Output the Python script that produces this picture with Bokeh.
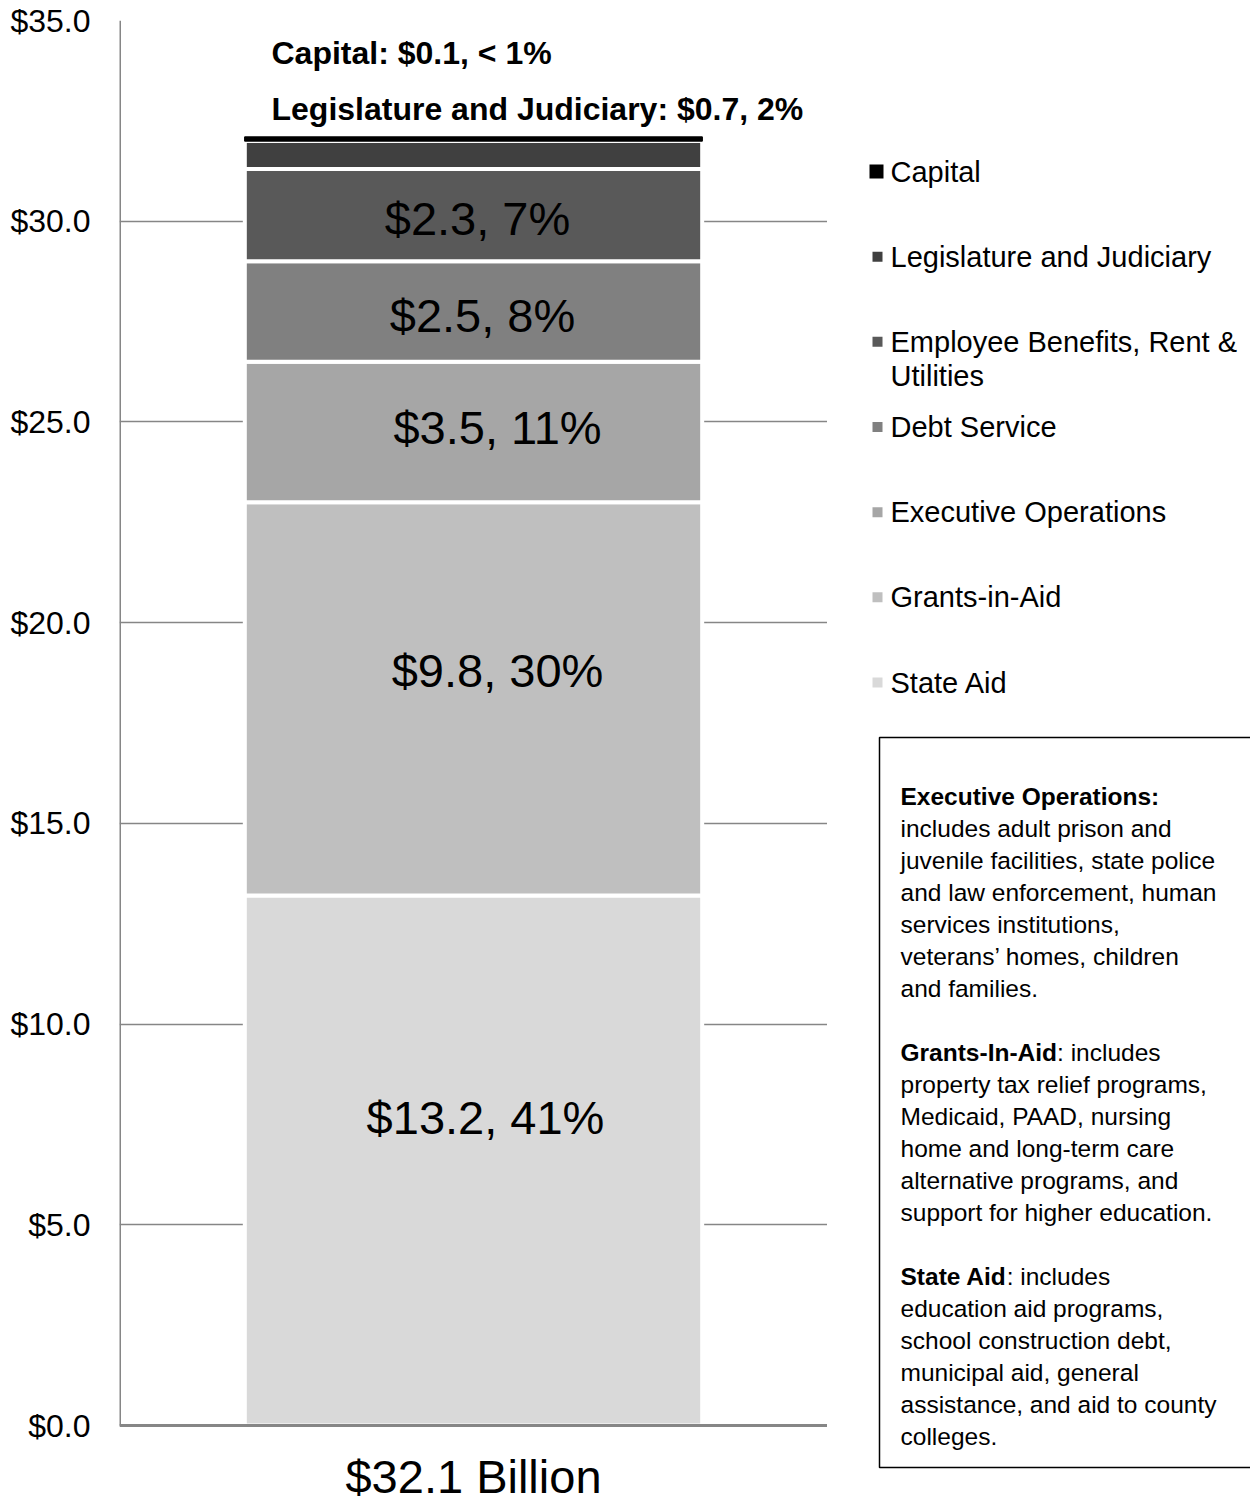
from bokeh.plotting import figure
from bokeh.layouts import row
from bokeh.models import Range1d, FixedTicker, NumeralTickFormatter, ColumnDataSource
from bokeh.core.properties import value
from bokeh.embed import file_html
from bokeh.resources import INLINE

# ---------------- data ----------------
categories = ["State Aid", "Grants-in-Aid", "Executive Operations", "Debt Service",
              "Employee Benefits, Rent &\nUtilities", "Legislature and Judiciary", "Capital"]
amounts = [13.2, 9.8, 3.5, 2.5, 2.3, 0.7, 0.1]
pct_labels = ["41%", "30%", "11%", "8%", "7%", "2%", "< 1%"]
colors = ["#d9d9d9", "#bfbfbf", "#a6a6a6", "#808080", "#595959", "#404040", "#000000"]
short_names = ["State Aid", "Grants-in-Aid", "Executive Operations", "Debt Service",
               "Employee Benefits", "Legislature and Judiciary", "Capital"]
total_label = "$32.1 Billion"
y_ticks = [0, 5, 10, 15, 20, 25, 30, 35]

box_lines = [
    ("Executive Operations:", ""),
    ("", "includes adult prison and"),
    ("", "juvenile facilities, state police"),
    ("", "and law enforcement, human"),
    ("", "services institutions,"),
    ("", "veterans\u2019 homes, children"),
    ("", "and families."),
    ("", ""),
    ("Grants-In-Aid", ": includes"),
    ("", "property tax relief programs,"),
    ("", "Medicaid, PAAD, nursing"),
    ("", "home and long-term care"),
    ("", "alternative programs, and"),
    ("", "support for higher education."),
    ("", ""),
    ("State Aid", ": includes"),
    ("", "education aid programs,"),
    ("", "school construction debt,"),
    ("", "municipal aid, general"),
    ("", "assistance, and aid to county"),
    ("", "colleges."),
]

# ---------------- styling / layout ----------------
FONT = "Liberation Sans"
GRID = "#868686"
W1, W2, H = 827, 423, 1503
TOP, BOT = 20, 1425
PPU = (BOT - TOP) / 35.0
BAR_W = 0.646
inbar_dx = [12, 24, 24, 9, 4]
inbar_dy = [-43, -28, -4, 4, 3]
top_note_x = 0.2147
top_note_y = [(BOT - 52) / PPU, (BOT - 108) / PPU]   # capital, legislature
bottom_label_y = (BOT - 1476) / PPU

bottoms, tops = [], []
acc = 0.0
for a in amounts:
    bottoms.append(acc)
    acc += a
    tops.append(acc)

p = figure(width=W1, height=H, x_range=Range1d(0, 1), y_range=Range1d(-(H - BOT) / PPU, 35),
           output_backend="svg", toolbar_location=None, x_axis_location=None,
           min_border_left=119, min_border_right=0, min_border_top=TOP, min_border_bottom=0)
p.outline_line_color = None
p.background_fill_color = "white"
p.border_fill_color = "white"
p.xgrid.visible = False
p.ygrid.ticker = FixedTicker(ticks=y_ticks)
p.ygrid.grid_line_color = GRID
p.ygrid.grid_line_width = 1.5

ax = p.yaxis[0]
ax.ticker = FixedTicker(ticks=y_ticks)
ax.formatter = NumeralTickFormatter(format="$0.0")
ax.axis_line_color = None
ax.major_tick_line_color = None
ax.minor_tick_line_color = None
ax.major_tick_out = 0
ax.major_tick_in = 0
ax.major_label_standoff = 29
ax.major_label_text_font = FONT
ax.major_label_text_font_size = "32px"
ax.major_label_text_color = "black"

line_cols = ["white"] * (len(amounts) - 1) + ["black"]
line_ws = [4] * (len(amounts) - 1) + [1.5]
src = ColumnDataSource(dict(left=[0.5 - BAR_W / 2] * len(amounts), right=[0.5 + BAR_W / 2] * len(amounts),
                            bottom=bottoms, top=tops, fill=colors, lc=line_cols, lw=line_ws))
p.quad(left="left", right="right", bottom="bottom", top="top", fill_color="fill",
       line_color="lc", line_width="lw", source=src)

# in-bar labels (first five segments)
n_in = 5
lab_src = ColumnDataSource(dict(
    x=[0.5] * n_in,
    y=[(bottoms[i] + tops[i]) / 2 for i in range(n_in)],
    text=["$%.1f, %s" % (amounts[i], pct_labels[i]) for i in range(n_in)],
    dx=inbar_dx, dy=inbar_dy))
p.text(x="x", y="y", text="text", x_offset="dx", y_offset="dy", source=lab_src,
       text_font=value(FONT), text_font_size="47px", text_color="black",
       text_align="center", text_baseline="middle")

# notes above the bar (capital, legislature)
note_idx = [6, 5]
p.text(x=[top_note_x] * 2, y=top_note_y,
       text=["%s: $%.1f, %s" % (short_names[i], amounts[i], pct_labels[i]) for i in note_idx],
       text_font=value(FONT), text_font_size="32px", text_font_style="bold",
       text_color="black", text_align="left", text_baseline="middle")

# category label under the bar
p.text(x=[0.5], y=[bottom_label_y], text=[total_label], text_font=value(FONT),
       text_font_size="47px", text_color="black", text_align="center", text_baseline="middle")

# axis lines
p.segment(x0=[0, 0], y0=[0, 0], x1=[0, 1], y1=[35, 0], line_color=GRID, line_width=3)

# ---------------- right panel: legend + notes ----------------
q = figure(width=W2, height=H, x_range=Range1d(0, W2), y_range=Range1d(H, TOP),
           output_backend="svg", toolbar_location=None, x_axis_location=None,
           y_axis_location=None, min_border=0, min_border_top=TOP)
q.outline_line_color = None
q.grid.visible = False
q.background_fill_color = "white"
q.border_fill_color = "white"

leg_names = categories[::-1]
leg_colors = colors[::-1]
leg_y = [171 + 85.17 * i for i in range(len(leg_names))]
leg_size = [14] + [10] * (len(leg_names) - 1)
leg_x = [49] + [50] * (len(leg_names) - 1)
q.scatter(x=leg_x, y=leg_y, marker="square", size=leg_size, fill_color=leg_colors, line_color=None)

tx, ty, tt = [], [], []
for name, yy in zip(leg_names, leg_y):
    for k, ln in enumerate(name.split("\n")):
        tx.append(63)
        ty.append(yy + 34 * k)
        tt.append(ln)
q.text(x=tx, y=ty, text=tt, text_font=value(FONT), text_font_size="29px",
       text_color="black", text_align="left", text_baseline="middle")

# notes box
q.quad(left=[52], right=[W2 + 50], top=[737], bottom=[1467], fill_color=None,
       line_color="black", line_width=1.5)

BOX_FS = 24.5
bold_w = {"Grants-In-Aid": 6.389, "State Aid": 4.334, "Executive Operations:": 10.559}
bx, by, bt, nx, ny, nt = [], [], [], [], [], []
for i, (b, n) in enumerate(box_lines):
    yy = 796 + 32 * i
    if b:
        bx.append(73); by.append(yy); bt.append(b)
    if n:
        nx.append(73 + (bold_w.get(b, 0) * BOX_FS if b else 0)); ny.append(yy); nt.append(n)
q.text(x=bx, y=by, text=bt, text_font=value(FONT), text_font_size="%spx" % BOX_FS,
       text_font_style="bold", text_color="black", text_align="left", text_baseline="middle")
q.text(x=nx, y=ny, text=nt, text_font=value(FONT), text_font_size="%spx" % BOX_FS,
       text_color="black", text_align="left", text_baseline="middle")

layout = row(p, q)
open("out.html", "w").write(file_html(layout, INLINE))
